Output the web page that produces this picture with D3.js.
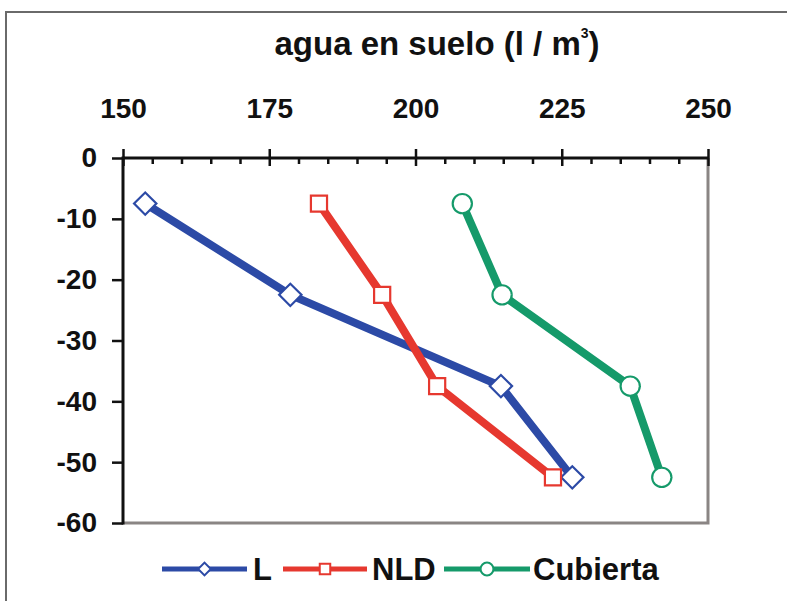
<!DOCTYPE html>
<html>
<head>
<meta charset="utf-8">
<script src="https://cdn.jsdelivr.net/npm/d3@7"></script>
<style>
  html, body { margin: 0; padding: 0; background: #ffffff; }
  svg { display: block; }
  text { font-family: "Liberation Sans", Arial, sans-serif; font-weight: bold; fill: #111; }
</style>
</head>
<body>
<svg id="chart" width="787" height="601"></svg>
<script>
// ---- data ----
const depths = [-7.5, -22.5, -37.5, -52.5];
const seriesNames = ["L", "NLD", "Cubierta"];
const valuesL = [153.8, 178.6, 214.6, 226.8];
const valuesNLD = [183.5, 194.3, 203.7, 223.5];
const valuesCubierta = [208.0, 214.8, 236.7, 242.1];
const xTicks = [150, 175, 200, 225, 250];
const xMinorTicks = d3.range(150, 251, 5);
const yTicks = [0, -10, -20, -30, -40, -50, -60];
const titleText = "agua en suelo (l / m";
const titleSup = "3";

const colors = { "L": "#2c4aa6", "NLD": "#e6382f", "Cubierta": "#159a6a" };
const shapes = { "L": d3.symbolSquare, "NLD": d3.symbolSquare, "Cubierta": d3.symbolCircle };
const rotations = { "L": 45, "NLD": 0, "Cubierta": 0 };
const seriesValues = { "L": valuesL, "NLD": valuesNLD, "Cubierta": valuesCubierta };

const svg = d3.select("#chart");

// outer frame (top and left only, as in the picture)
svg.append("path")
  .attr("d", "M6,601 L6,12 L787,12")
  .attr("fill", "none").attr("stroke", "#6a6a6a").attr("stroke-width", 2);

const x = d3.scaleLinear().domain([150, 250]).range([123, 708]);
const y = d3.scaleLinear().domain([0, -60]).range([158, 523]);

// plot frame right & bottom (gray)
svg.append("path")
  .attr("d", `M${x(150)},${y(-60)} L${x(250)},${y(-60)} L${x(250)},${y(0)}`)
  .attr("fill", "none").attr("stroke", "#8a8584").attr("stroke-width", 3);

// title
const title = svg.append("text")
  .attr("x", 437).attr("y", 55)
  .attr("text-anchor", "middle")
  .style("font-size", "33px")
  .text(titleText);
title.append("tspan").attr("dx", 0).attr("dy", -17).style("font-size", "14px").text(titleSup);
title.append("tspan").attr("dy", 17).text(")");

// top axis: major ticks above with labels
const gTop = svg.append("g").attr("transform", `translate(0,${y(0)})`);
gTop.call(d3.axisTop(x).tickValues(xTicks).tickSize(9).tickPadding(31).tickFormat(d => String(d)));
// minor + major ticks below axis
const gTopMinor = svg.append("g").attr("transform", `translate(0,${y(0)})`);
gTopMinor.call(d3.axisBottom(x).tickValues(xMinorTicks).tickSize(6).tickFormat(""));
gTopMinor.selectAll(".tick line").filter(d => xTicks.includes(d)).attr("y2", 8);
gTopMinor.select(".domain").remove();

// left axis
const gLeft = svg.append("g").attr("transform", `translate(${x(150)},0)`);
gLeft.call(d3.axisLeft(y).tickValues(yTicks).tickSize(11).tickPadding(15).tickFormat(d => String(d)));

[gTop, gTopMinor, gLeft].forEach(g => {
  g.selectAll(".domain").attr("stroke", "#111").attr("stroke-width", 3);
  g.selectAll(".tick line").attr("stroke", "#111").attr("stroke-width", 2.5);
});
gTop.selectAll(".tick text").style("font-size", "28px").attr("fill", "#111");
gLeft.selectAll(".tick text").style("font-size", "28px").attr("fill", "#111");
gLeft.select(".domain").attr("d", `M0,${y(0) - 1.5}V${y(-60) + 1.5}`);
gTop.select(".domain").attr("d", `M${x(150)},0H${x(250) + 1}`);

// lines & markers
const line = d3.line().x(d => x(d.v)).y(d => y(d.d));
const sizes = { "L": 250, "NLD": 260, "Cubierta": 290 };
seriesNames.forEach(name => {
  const pts = depths.map((d, i) => ({ d: d, v: seriesValues[name][i] }));
  svg.append("path").datum(pts)
    .attr("d", line)
    .attr("fill", "none")
    .attr("stroke", colors[name])
    .attr("stroke-width", 8)
    .attr("stroke-linejoin", "round");
  svg.selectAll(null).data(pts).enter().append("path")
    .attr("transform", d => `translate(${x(d.v)},${y(d.d)}) rotate(${rotations[name]})`)
    .attr("d", d3.symbol().type(shapes[name]).size(sizes[name]))
    .attr("fill", "#ffffff")
    .attr("stroke", colors[name])
    .attr("stroke-width", 2.2);
});

// legend
const legendItems = [
  { name: "L", x0: 162, x1: 247, tx: 253 },
  { name: "NLD", x0: 283, x1: 367, tx: 372 },
  { name: "Cubierta", x0: 444, x1: 530, tx: 533 }
];
const ly = 569;
const legSizes = { "L": 80, "NLD": 110, "Cubierta": 130 };
legendItems.forEach(it => {
  svg.append("line")
    .attr("x1", it.x0).attr("x2", it.x1).attr("y1", ly).attr("y2", ly)
    .attr("stroke", colors[it.name]).attr("stroke-width", 5);
  svg.append("path")
    .attr("transform", `translate(${(it.x0 + it.x1) / 2},${ly}) rotate(${rotations[it.name]})`)
    .attr("d", d3.symbol().type(shapes[it.name]).size(legSizes[it.name]))
    .attr("fill", "#ffffff").attr("stroke", colors[it.name]).attr("stroke-width", 2);
  svg.append("text")
    .attr("x", it.tx).attr("y", ly + 11)
    .style("font-size", "31px")
    .text(it.name);
});
</script>
</body>
</html>
